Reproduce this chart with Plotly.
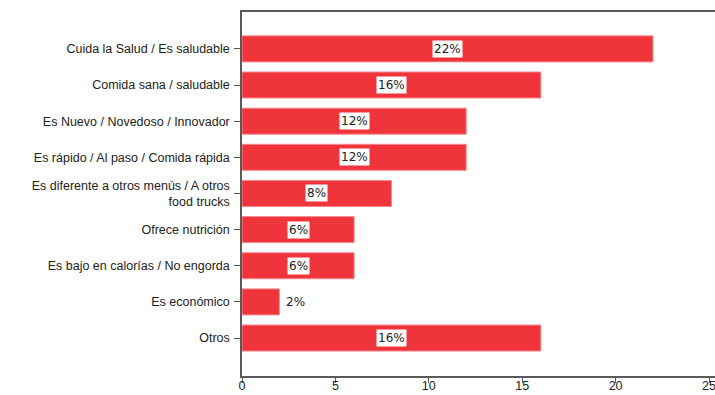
import plotly.graph_objects as go

# Reasons given for choosing the food truck (percentage of respondents)
categories = [
    "Cuida la Salud / Es saludable",
    "Comida sana / saludable",
    "Es Nuevo / Novedoso / Innovador",
    "Es rápido / Al paso / Comida rápida",
    "Es diferente a otros menús / A otros<br>food trucks",
    "Ofrece nutrición",
    "Es bajo en calorías / No engorda",
    "Es económico",
    "Otros",
]
values = [22, 16, 12, 12, 8, 6, 6, 2, 16]
x_ticks = [0, 5, 10, 15, 20, 25]

BAR_RED = "#F0343C"
AXIS_GREY = "#5a5a5a"

fig = go.Figure(
    go.Bar(
        y=categories,
        x=values,
        orientation="h",
        width=0.72,
        marker=dict(color=BAR_RED, line=dict(color="#F7898E", width=1)),
        hoverinfo="skip",
    )
)

# Percentage labels: centred inside long bars, just past the end of short ones
annotations = []
for cat, v in zip(categories, values):
    inside = v >= 4
    annotations.append(
        dict(
            x=v / 2 if inside else v,
            y=cat,
            xref="x",
            yref="y",
            text=f"{v}%",
            showarrow=False,
            xanchor="center" if inside else "left",
            xshift=0 if inside else 5,
            bgcolor="white" if inside else "rgba(0,0,0,0)",
            borderpad=1,
            font=dict(family="DejaVu Sans", size=12, color="#222222"),
        )
    )

fig.update_layout(
    width=715,
    height=395,
    margin=dict(l=242, r=0, t=12, b=19),
    paper_bgcolor="white",
    plot_bgcolor="white",
    showlegend=False,
    annotations=annotations,
    xaxis=dict(
        range=[0, 25.32],
        tickvals=x_ticks,
        ticks="outside",
        ticklen=5,
        tickwidth=1,
        tickcolor=AXIS_GREY,
        showline=True,
        linecolor=AXIS_GREY,
        linewidth=1.5,
        mirror=True,
        showgrid=False,
        zeroline=False,
        automargin=False,
        ticklabeloverflow="allow",
        ticklabelstandoff=-8,
        tickfont=dict(family="Liberation Sans, Arial", size=12.5, color="#222222"),
    ),
    yaxis=dict(
        categoryorder="array",
        categoryarray=categories,
        range=[9.05, -1.02],
        ticks="outside",
        ticklen=6,
        tickwidth=1,
        tickcolor=AXIS_GREY,
        showline=True,
        linecolor=AXIS_GREY,
        linewidth=1.5,
        showgrid=False,
        zeroline=False,
        automargin=False,
        ticklabelstandoff=2,
        tickfont=dict(family="Liberation Sans, Arial", size=12.5, color="#222222"),
    ),
)

fig.write_html("out.html")
